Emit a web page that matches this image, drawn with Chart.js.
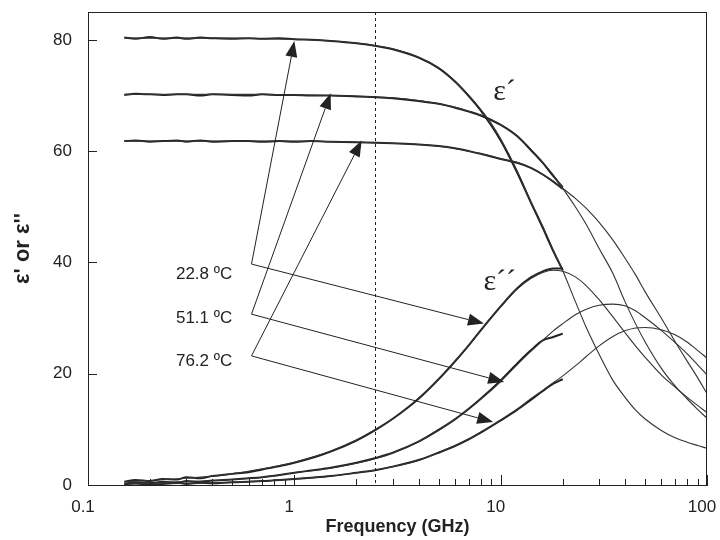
<!DOCTYPE html>
<html>
<head>
  <meta charset="UTF-8">
  <title>Dielectric spectra of water</title>
  <script src="https://cdn.jsdelivr.net/npm/chart.js"></script>
  <style>
    html, body { margin: 0; padding: 0; background: #fff; }
    #wrap { width: 720px; height: 540px; }
  </style>
</head>
<body>
  <div id="wrap"><canvas id="chart"></canvas></div>

  <script>
    // Debye fit curves (thin lines), GHz
    const freqModel = [0.15, 0.2, 0.3, 0.5, 0.7, 1, 1.5, 2, 2.5, 3, 4, 5, 6, 7, 8, 9, 10, 12, 14, 16, 18, 20,
                       23, 26, 30, 35, 40, 45, 50, 60, 70, 80, 90, 100];
    const e1Fit228 = [80.3, 80.3, 80.3, 80.3, 80.2, 80.1, 79.8, 79.4, 78.9, 78.4, 76.9, 75.0, 72.6, 70.0, 67.5, 65.0, 62.2, 56.5, 51.0, 46.5, 42.2, 38.5,
                      33.0, 28.3, 23.5, 18.8, 15.8, 13.5, 11.9, 9.8, 8.5, 7.7, 7.1, 6.6];
    const e1Fit511 = [70.2, 70.2, 70.2, 70.2, 70.2, 70.1, 70.0, 69.9, 69.7, 69.6, 69.1, 68.5, 67.9, 67.2, 66.5, 65.7, 64.8, 62.8, 60.3, 58.0, 55.7, 53.3,
                      50.0, 46.8, 42.5, 38.0, 33.0, 29.0, 25.8, 21.0, 17.8, 15.5, 13.6, 12.0];
    const e1Fit762 = [61.8, 61.8, 61.8, 61.8, 61.8, 61.8, 61.7, 61.6, 61.5, 61.4, 61.2, 60.9, 60.5, 60.0, 59.6, 59.1, 58.6, 58.0, 57.0, 55.8, 54.6, 53.3,
                      51.5, 49.7, 47.2, 44.0, 40.8, 37.8, 34.8, 30.0, 25.8, 22.3, 19.3, 16.4];
    const e2Fit228 = [0.6, 0.8, 1.2, 2.0, 2.9, 4.1, 6.1, 8.1, 10.1, 11.9, 15.6, 19.0, 22.2, 25.1, 27.7, 30.0, 32.0, 35.2, 37.1, 38.2, 38.6, 38.4,
                      37.4, 35.8, 33.3, 30.2, 27.4, 25.0, 23.0, 19.8, 17.6, 15.8, 14.3, 13.0];
    const e2Fit511 = [0.3, 0.4, 0.6, 1.0, 1.4, 2.2, 3.0, 3.9, 4.8, 5.8, 7.8, 9.8, 11.8, 13.6, 15.4, 17.0, 18.6, 21.6, 24.0, 26.0, 27.7, 29.0,
                      30.6, 31.6, 32.3, 32.5, 32.2, 31.3, 30.1, 27.8, 25.6, 23.6, 21.6, 19.8];
    const e2Fit762 = [0.2, 0.2, 0.3, 0.5, 0.7, 1.1, 1.6, 2.2, 2.7, 3.3, 4.4, 5.9, 7.1, 8.3, 9.5, 10.6, 11.7, 13.6, 15.5, 17.0, 18.4, 19.6,
                      21.4, 23.1, 25.0, 26.7, 27.7, 28.2, 28.3, 27.9, 27.0, 25.7, 24.2, 22.8];

    // measured spectra (thick lines), 0.15 - 20 GHz
    const freqMeas = [0.15, 0.17, 0.2, 0.23, 0.27, 0.3, 0.35, 0.4, 0.5, 0.6, 0.7, 0.85, 1, 1.2, 1.5, 2, 2.5, 3, 4, 5, 6, 7, 8, 10, 12, 14, 16, 18, 20];
    const e1Meas228 = [80.4, 80.2, 80.5, 80.2, 80.4, 80.2, 80.4, 80.3, 80.2, 80.3, 80.2, 80.3, 80.1, 80.0, 79.8, 79.4, 78.9, 78.3, 76.8, 74.9, 72.5, 69.9, 67.3, 61.9, 56.2, 50.8, 46.2, 42.0, 38.6];
    const e1Meas511 = [70.1, 70.3, 70.2, 70.1, 70.2, 70.2, 70.0, 70.2, 70.1, 70.0, 70.2, 70.1, 70.1, 70.0, 70.0, 69.8, 69.7, 69.5, 69.0, 68.5, 67.8, 67.1, 66.4, 64.7, 62.7, 60.2, 57.9, 55.5, 53.5];
    const e1Meas762 = [61.8, 61.9, 61.7, 61.8, 61.9, 61.7, 61.9, 61.7, 61.8, 61.8, 61.7, 61.8, 61.7, 61.8, 61.7, 61.6, 61.5, 61.4, 61.2, 60.9, 60.5, 60.0, 59.5, 58.6, 57.9, 57.0, 55.8, 54.5, 53.2];
    const e2Meas228 = [0.6, 0.9, 0.7, 1.1, 1.0, 1.4, 1.2, 1.6, 2.0, 2.3, 2.8, 3.4, 4.0, 4.8, 6.0, 8.0, 10.0, 11.9, 15.5, 19.0, 22.2, 25.1, 27.8, 32.1, 35.3, 37.3, 38.4, 38.9, 38.9];
    const e2Meas511 = [0.2, 0.5, 0.3, 0.6, 0.4, 0.7, 0.6, 0.8, 1.0, 1.2, 1.4, 1.8, 2.2, 2.6, 3.1, 4.0, 4.9, 5.8, 7.8, 9.9, 11.8, 13.7, 15.5, 18.8, 21.8, 24.2, 26.0, 26.6, 27.2];
    const e2Meas762 = [0.1, 0.3, 0.0, 0.2, 0.4, 0.2, 0.4, 0.3, 0.5, 0.6, 0.7, 0.9, 1.1, 1.3, 1.6, 2.2, 2.7, 3.3, 4.5, 5.8, 7.0, 8.2, 9.4, 11.6, 13.5, 15.3, 16.9, 18.2, 19.0];

    // axes
    const xMajor = [0.1, 1, 10, 100];
    const xMinor = [0.2, 0.3, 0.4, 0.5, 0.6, 0.7, 0.8, 0.9, 2, 3, 4, 5, 6, 7, 8, 9, 20, 30, 40, 50, 60, 70, 80, 90];
    const yTicks = [0, 20, 40, 60, 80];
    const microwaveFreq = 2.45;

    // annotations (data coordinates)
    const tempLabels = ['22.8 ºC', '51.1 ºC', '76.2 ºC'];
    const labelFreq = 0.5;
    const labelY = [37.9, 30.0, 22.2];
    const arrowFreq = 0.62;
    const arrowY = [39.7, 30.7, 23.2];
    const arrowToE1 = [[1.0, 79.8], [1.5, 70.4], [2.12, 61.9]];
    const arrowToE2 = [[8.3, 29.0], [10.4, 18.5], [9.2, 11.3]];

    const ink = '#222';

    function pts(fs, vs) {
      return fs.map((f, i) => ({ x: f, y: vs[i] }));
    }
    function fitSet(vs) {
      return { data: pts(freqModel, vs), borderColor: '#333', borderWidth: 1.1, pointRadius: 0, cubicInterpolationMode: 'monotone', fill: false };
    }
    function measSet(vs) {
      return { data: pts(freqMeas, vs), borderColor: ink, borderWidth: 2, pointRadius: 0, cubicInterpolationMode: 'monotone', fill: false };
    }

    function drawArrow(ctx, x0, y0, x1, y1) {
      const a = Math.atan2(y1 - y0, x1 - x0);
      const len = 16, half = 6;
      const bx = x1 - len * Math.cos(a), by = y1 - len * Math.sin(a);
      ctx.beginPath();
      ctx.moveTo(x0, y0);
      ctx.lineTo(bx, by);
      ctx.stroke();
      ctx.beginPath();
      ctx.moveTo(x1, y1);
      ctx.lineTo(bx + half * Math.sin(a), by - half * Math.cos(a));
      ctx.lineTo(bx - half * Math.sin(a), by + half * Math.cos(a));
      ctx.closePath();
      ctx.fill();
    }

    const decorations = {
      id: 'decorations',
      afterDatasetsDraw(chart) {
        const { ctx, chartArea: a, scales: { x, y } } = chart;
        ctx.save();
        ctx.strokeStyle = ink;
        ctx.fillStyle = ink;
        ctx.lineWidth = 1;

        // frame
        ctx.strokeRect(a.left + 0.5, a.top + 0.5, a.right - a.left - 1, a.bottom - a.top);

        // inside ticks
        ctx.beginPath();
        xMajor.concat(xMinor).forEach(v => {
          const px = Math.round(x.getPixelForValue(v)) + 0.5;
          const len = xMajor.includes(v) ? 10 : 6;
          ctx.moveTo(px, a.bottom);
          ctx.lineTo(px, a.bottom - len);
        });
        yTicks.forEach(v => {
          const py = Math.round(y.getPixelForValue(v)) + 0.5;
          ctx.moveTo(a.left, py);
          ctx.lineTo(a.left + 9, py);
        });
        ctx.stroke();

        // 2.45 GHz marker
        const mx = Math.round(x.getPixelForValue(microwaveFreq)) + 0.5;
        ctx.setLineDash([3, 3]);
        ctx.beginPath();
        ctx.moveTo(mx, a.top);
        ctx.lineTo(mx, a.bottom);
        ctx.stroke();
        ctx.setLineDash([]);

        // temperature labels and arrows
        ctx.font = '17px "Liberation Sans", Arial, sans-serif';
        ctx.textAlign = 'right';
        ctx.textBaseline = 'middle';
        tempLabels.forEach((t, i) => {
          ctx.fillText(t, x.getPixelForValue(labelFreq), y.getPixelForValue(labelY[i]));
          const x0 = x.getPixelForValue(arrowFreq), y0 = y.getPixelForValue(arrowY[i]);
          drawArrow(ctx, x0, y0, x.getPixelForValue(arrowToE1[i][0]), y.getPixelForValue(arrowToE1[i][1]));
          drawArrow(ctx, x0, y0, x.getPixelForValue(arrowToE2[i][0]), y.getPixelForValue(arrowToE2[i][1]));
        });

        // curve family labels
        ctx.font = '30px "Liberation Serif", "Times New Roman", serif';
        ctx.textAlign = 'left';
        ctx.fillText('ε´', x.getPixelForValue(9.2), y.getPixelForValue(70.6));
        ctx.fillText('ε´´', x.getPixelForValue(8.25), y.getPixelForValue(36.4));
        ctx.restore();
      }
    };

    const ctx = document.getElementById('chart').getContext('2d');
    new Chart(ctx, {
      type: 'line',
      data: {
        datasets: [
          fitSet(e1Fit228), fitSet(e1Fit511), fitSet(e1Fit762),
          fitSet(e2Fit228), fitSet(e2Fit511), fitSet(e2Fit762),
          measSet(e1Meas228), measSet(e1Meas511), measSet(e1Meas762),
          measSet(e2Meas228), measSet(e2Meas511), measSet(e2Meas762)
        ]
      },
      options: {
        responsive: true,
        maintainAspectRatio: false,
        animation: false,
        layout: { padding: { top: 12, right: 13, left: 0, bottom: 0 } },
        plugins: { legend: { display: false }, tooltip: { enabled: false } },
        scales: {
          x: {
            type: 'logarithmic',
            min: 0.1,
            max: 100,
            afterFit: s => { s.height = 55; s.paddingLeft = 0; s.paddingRight = 0; },
            afterBuildTicks: s => { s.ticks = xMajor.map(v => ({ value: v })); },
            grid: { display: false, drawTicks: false },
            border: { display: true, color: ink },
            ticks: {
              autoSkip: false,
              maxRotation: 0,
              padding: 12,
              labelOffset: -5,
              color: ink,
              font: { family: '"Liberation Sans", Arial, sans-serif', size: 17 },
              callback: v => String(v)
            },
            title: {
              display: true,
              text: 'Frequency (GHz)',
              color: ink,
              padding: { top: 0, bottom: 2 },
              font: { family: '"Liberation Sans", Arial, sans-serif', size: 18, weight: 'bold' }
            }
          },
          y: {
            min: 0,
            max: 85,
            afterFit: s => { s.width = 88; s.paddingTop = 0; s.paddingBottom = 0; },
            afterBuildTicks: s => { s.ticks = yTicks.map(v => ({ value: v })); },
            grid: { display: false, drawTicks: false },
            border: { display: true, color: ink },
            ticks: {
              padding: 16,
              color: ink,
              font: { family: '"Liberation Sans", Arial, sans-serif', size: 17 }
            },
            title: {
              display: true,
              text: "ε' or ε''",
              color: ink,
              padding: { top: 10, bottom: 0 },
              font: { family: '"Liberation Sans", Arial, sans-serif', size: 22, weight: 'bold' }
            }
          }
        }
      },
      plugins: [decorations]
    });
  </script>
</body>
</html>
